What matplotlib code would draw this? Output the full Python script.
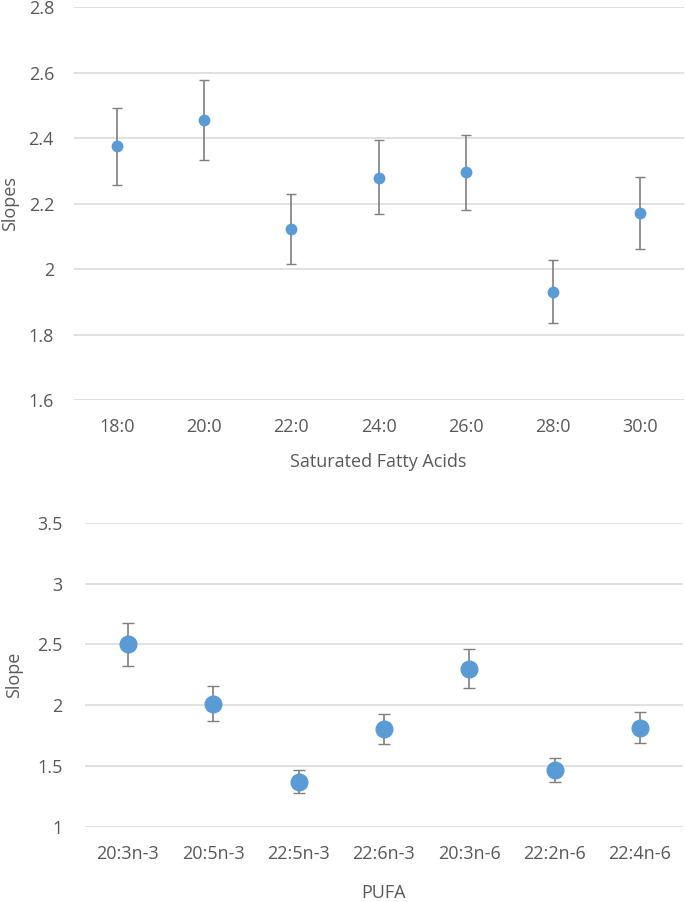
import matplotlib

matplotlib.use("Agg")
import matplotlib.pyplot as plt

# saturated fatty acids panel
sfa_labels = ["18:0", "20:0", "22:0", "24:0", "26:0", "28:0", "30:0"]
sfa_slopes = [2.377, 2.456, 2.123, 2.279, 2.296, 1.931, 2.172]
sfa_lower = [2.257, 2.334, 2.016, 2.168, 2.180, 1.836, 2.063]
sfa_upper = [2.493, 2.578, 2.230, 2.395, 2.411, 2.028, 2.282]

# PUFA panel
pufa_labels = ["20:3n-3", "20:5n-3", "22:5n-3", "22:6n-3", "20:3n-6", "22:2n-6", "22:4n-6"]
pufa_slopes = [2.50, 2.012, 1.368, 1.801, 2.297, 1.464, 1.815]
pufa_lower = [2.325, 1.869, 1.277, 1.680, 2.141, 1.365, 1.688]
pufa_upper = [2.673, 2.155, 1.464, 1.924, 2.465, 1.568, 1.941]

plt.rcParams["font.family"] = ["Open Sans", "DejaVu Sans"]
TEXT = "#595959"
GRID = "#d9d9d9"
POINT = "#5b9bd5"
ERR = "#7f7f7f"
FS = 13

fig = plt.figure(figsize=(6.85, 9.02), dpi=100)


def draw_panel(ax, labels, slopes, lower, upper, yticks, ms, capsize, ypad):
    x = list(range(len(labels)))
    yerr = [[s - lo for s, lo in zip(slopes, lower)], [hi - s for s, hi in zip(slopes, upper)]]
    ax.errorbar(x, slopes, yerr=yerr, fmt="o", color=POINT, markersize=ms,
                ecolor=ERR, elinewidth=1.2, capsize=capsize, capthick=1.0, zorder=3)
    ax.set_xlim(-0.5, len(labels) - 0.5)
    ax.set_ylim(yticks[0], yticks[-1])
    ax.set_yticks(yticks)
    ax.set_yticklabels([f"{t:g}" for t in yticks])
    ax.set_xticks(x)
    ax.set_xticklabels(labels)
    ax.grid(axis="y", color=GRID, linewidth=1.1)
    ax.set_axisbelow(True)
    for side in ["top", "right", "left", "bottom"]:
        ax.spines[side].set_visible(False)
    ax.tick_params(length=0, colors=TEXT, labelsize=FS)
    ax.tick_params(axis="y", pad=ypad)
    ax.tick_params(axis="x", pad=13)


ax1 = fig.add_axes([0.1073, 0.5565, 0.8907, 0.4352])
draw_panel(ax1, sfa_labels, sfa_slopes, sfa_lower, sfa_upper,
           [1.6, 1.8, 2.0, 2.2, 2.4, 2.6, 2.8], 7.5, 3.5, 14)
ax1.set_yticklabels(["1.6", "1.8", "2", "2.2", "2.4", "2.6", "2.8"])
ax1.set_xlabel("Saturated Fatty Acids", color=TEXT, fontsize=FS, labelpad=12)
ax1.set_ylabel("Slopes", color=TEXT, fontsize=FS, labelpad=7)

ax2 = fig.add_axes([0.1245, 0.0835, 0.8721, 0.337])
draw_panel(ax2, pufa_labels, pufa_slopes, pufa_lower, pufa_upper,
           [1, 1.5, 2, 2.5, 3, 3.5], 12, 4, 16.5)
ax2.set_xlabel("PUFA", color=TEXT, fontsize=FS, labelpad=15)
ax2.set_ylabel("Slope", color=TEXT, fontsize=FS, labelpad=10)

fig.savefig("out.png", dpi=100)
